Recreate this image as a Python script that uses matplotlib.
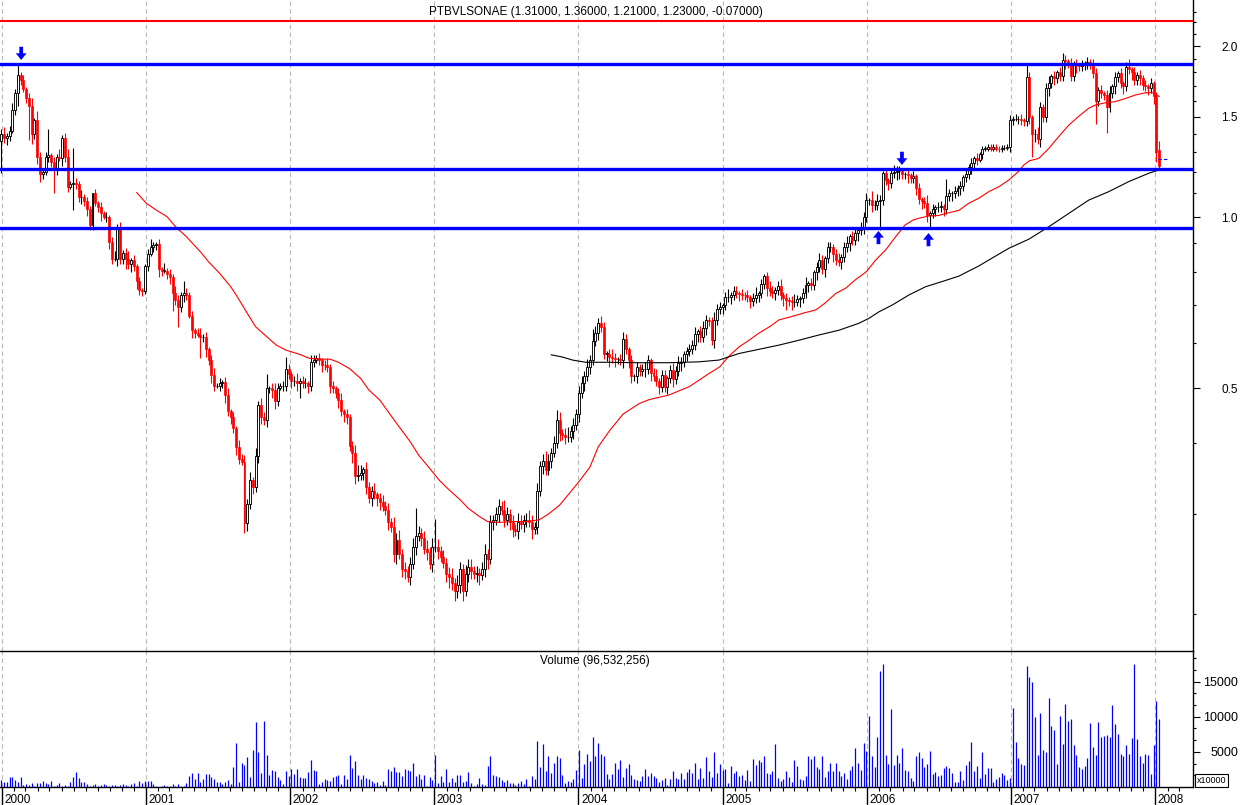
import numpy as np
import matplotlib
matplotlib.use("Agg")
import matplotlib.pyplot as plt
import matplotlib.dates as mdates
import matplotlib.transforms as mtrans
from matplotlib.ticker import FixedLocator, NullFormatter
import datetime as dt

plt.rcParams['font.family'] = ['Liberation Sans', 'DejaVu Sans']

# ---------------- data ----------------
symbol = "PTBVLSONAE"
first_week = dt.date(1999, 12, 31)          # weekly bars, Fridays
first_open = 1.36
last_bar = [1.31, 1.36, 1.21, 1.23]          # open, high, low, close of final week
last_change = -0.07

weekly_close = [
    1.40, 1.38, 1.39, 1.42, 1.54, 1.65, 1.78, 1.74, 1.68, 1.62,
    1.57, 1.40, 1.48, 1.277, 1.19, 1.20, 1.277, 1.285, 1.25, 1.21,
    1.277, 1.27, 1.38, 1.277, 1.13, 1.145, 1.15, 1.145, 1.085, 1.085,
    1.065, 1.035, 0.97, 1.10, 1.057, 1.043, 1.015, 1.00, 1.00, 0.905,
    0.845, 0.845, 0.962, 0.845, 0.865, 0.845, 0.825, 0.84, 0.82, 0.77,
    0.744, 0.74,
    0.82, 0.862, 0.887, 0.893, 0.895, 0.81, 0.805, 0.805, 0.795, 0.785,
    0.734, 0.715, 0.695, 0.73, 0.734, 0.73, 0.67, 0.632, 0.625, 0.62,
    0.615, 0.615, 0.585, 0.56, 0.527, 0.505, 0.505, 0.51, 0.512, 0.486,
    0.455, 0.445, 0.425, 0.393, 0.375, 0.37, 0.289, 0.313, 0.345, 0.335,
    0.38, 0.466, 0.445, 0.44, 0.50, 0.50, 0.495, 0.474, 0.50, 0.505,
    0.505, 0.54, 0.53, 0.515, 0.515, 0.51,
    0.515, 0.51, 0.51, 0.505, 0.555, 0.56, 0.565, 0.56, 0.55, 0.548,
    0.545, 0.505, 0.50, 0.49, 0.476, 0.455, 0.45, 0.445, 0.395, 0.385,
    0.35, 0.352, 0.355, 0.36, 0.335, 0.32, 0.33, 0.325, 0.32, 0.315,
    0.31, 0.305, 0.29, 0.285, 0.255, 0.27, 0.255, 0.24, 0.238, 0.232,
    0.245, 0.262, 0.274, 0.278, 0.272, 0.26, 0.257, 0.245, 0.262, 0.263,
    0.258, 0.252, 0.246, 0.235, 0.232, 0.227, 0.22, 0.225, 0.24, 0.22,
    0.235, 0.2425, 0.238, 0.235, 0.236, 0.234, 0.24, 0.255, 0.25, 0.29,
    0.293, 0.30, 0.31, 0.305, 0.293, 0.30, 0.29, 0.282, 0.28, 0.29,
    0.288, 0.293, 0.293, 0.29, 0.282, 0.285, 0.33, 0.364, 0.372, 0.358,
    0.372, 0.385, 0.40, 0.44, 0.416, 0.413, 0.41, 0.41, 0.42, 0.43,
    0.45, 0.49, 0.51, 0.525, 0.545, 0.56, 0.605, 0.625,
    0.65, 0.64, 0.575, 0.575, 0.568, 0.565, 0.562, 0.562, 0.56, 0.61,
    0.585, 0.56, 0.525, 0.525, 0.545, 0.535, 0.54, 0.54, 0.56, 0.531,
    0.525, 0.515, 0.503, 0.527, 0.503, 0.52, 0.538, 0.518, 0.535, 0.553,
    0.556, 0.575, 0.58, 0.585, 0.595, 0.622, 0.63, 0.615, 0.638, 0.66,
    0.655, 0.607, 0.66, 0.69, 0.695, 0.70, 0.724, 0.724, 0.73, 0.74,
    0.735, 0.733, 0.73, 0.728, 0.722, 0.712, 0.72, 0.73, 0.735, 0.762,
    0.786, 0.75, 0.742, 0.735, 0.745, 0.755, 0.73, 0.72, 0.715, 0.712,
    0.708, 0.71, 0.716, 0.72, 0.735, 0.76, 0.765, 0.76, 0.80, 0.818,
    0.84, 0.81, 0.846, 0.886, 0.887, 0.86, 0.84, 0.835, 0.852, 0.886,
    0.90, 0.925, 0.911, 0.936, 0.95, 0.962, 1.00, 1.07, 1.07, 1.05,
    1.05, 1.065, 1.07, 1.194, 1.16, 1.15, 1.194, 1.20, 1.205, 1.205,
    1.19, 1.19, 1.185, 1.17, 1.18, 1.125, 1.075, 1.065, 1.06, 1.01,
    1.015, 1.035, 1.04, 1.04, 1.045, 1.035, 1.09, 1.10, 1.10, 1.11,
    1.125, 1.135, 1.175, 1.19, 1.225, 1.245, 1.27, 1.26, 1.29, 1.32,
    1.32, 1.33, 1.32, 1.33, 1.32, 1.315, 1.325, 1.325, 1.33, 1.48,
    1.49, 1.49, 1.49, 1.48, 1.475, 1.765, 1.50, 1.40, 1.40, 1.37,
    1.564, 1.50, 1.685, 1.72, 1.77, 1.76, 1.80, 1.77, 1.89, 1.88,
    1.87, 1.77, 1.86, 1.85, 1.845, 1.85, 1.86, 1.875, 1.86, 1.79,
    1.60, 1.674, 1.65, 1.64, 1.564, 1.65, 1.70, 1.765, 1.79, 1.72,
    1.70, 1.84, 1.82, 1.80, 1.74, 1.78, 1.76, 1.71, 1.70, 1.69,
    1.72, 1.63, 1.30, 1.23,
]

wick_up_pct = [
    2, 3, 1, 2, 3, 2, 4, 1, 2, 1, 2, 3, 1, 4, 2, 1, 2, 11, 1, 2,
    1, 3, 1, 2, 3, 1, 15, 2, 1, 3, 1, 2, 1, 0, 2, 1, 2, 1, 2, 1,
    2, 3, 1, 2, 1, 2, 3, 1, 2, 1, 2, 1, 1, 2, 3, 1, 1, 2, 1, 3,
    1, 2, 1, 3, 2, 1, 5, 2, 1, 2, 1, 2, 3, 1, 2, 1, 2, 3, 1, 2,
    1, 2, 3, 1, 2, 1, 3, 2, 3, 2, 3, 1, 3, 2, 3, 2, 6, 1, 2, 3,
    2, 1, 2, 5, 2, 1, 2, 3, 1, 2, 2, 1, 3, 2, 1, 2, 1, 2, 3, 1,
    2, 1, 2, 3, 1, 2, 1, 2, 3, 4, 3, 1, 3, 2, 2, 3, 1, 2, 3, 2,
    3, 2, 4, 3, 4, 2, 3, 2, 3, 4, 12, 3, 2, 3, 4, 2, 4, 12, 3, 2,
    3, 2, 3, 4, 2, 4, 3, 2, 4, 3, 3, 2, 3, 2, 3, 4, 2, 3, 2, 3,
    3, 2, 4, 3, 2, 3, 2, 4, 3, 2, 3, 4, 3, 2, 3, 2, 3, 4, 3, 2,
    3, 4, 3, 2, 3, 4, 2, 3, 2, 3, 3, 2, 3, 2, 5, 3, 2, 3, 2, 1,
    2, 3, 2, 1, 2, 3, 2, 1, 2, 1, 2, 1, 2, 3, 2, 1, 2, 3, 1, 2,
    2, 1, 2, 3, 2, 3, 2, 1, 2, 2, 2, 3, 1, 2, 3, 2, 1, 2, 3, 2,
    2, 1, 2, 3, 1, 2, 2, 1, 2, 1, 2, 1, 2, 3, 1, 2, 1, 2, 3, 2,
    1, 2, 3, 1, 2, 1, 2, 3, 2, 1, 2, 3, 1, 2, 1, 2, 3, 2, 1, 2,
    2, 1, 2, 3, 1, 2, 3, 1, 2, 2, 1, 2, 2, 3, 1, 4, 2, 3, 2, 1,
    2, 1, 2, 3, 2, 2, 1, 1, 2, 1, 2, 1, 2, 1, 2, 3, 1, 2, 1, 2,
    2, 1, 7, 2, 1, 2, 1, 2, 1, 2, 1, 2, 1, 2, 1, 1, 1, 1, 1, 1,
    1, 1, 1, 1, 1, 2, 1, 2, 1, 2, 1, 5, 2, 1, 2, 3, 2, 1, 2, 3,
    1, 2, 1, 2, 3, 2, 1, 2, 1, 2, 1, 2, 1, 2, 1, 2, 2, 1, 2, 1,
    2, 3, 1, 2, 1, 2, 1, 2, 3, 1, 2, 1, 2, 1, 2, 1, 2, 1, 2, 4,
]

wick_dn_pct = [
    12, 2, 3, 2, 1, 2, 5, 2, 1, 2, 13, 4, 2, 3, 3, 2, 1, 2, 2, 9,
    2, 1, 3, 2, 2, 1, 10, 2, 2, 3, 2, 3, 2, 2, 1, 2, 3, 1, 2, 3,
    2, 1, 3, 2, 2, 4, 2, 3, 2, 3, 2, 2, 1, 2, 1, 2, 2, 3, 2, 1,
    2, 3, 7, 2, 8, 2, 3, 2, 1, 3, 2, 1, 8, 2, 3, 2, 3, 2, 1, 2,
    2, 3, 2, 3, 2, 3, 2, 1, 4, 3, 2, 3, 2, 3, 3, 2, 3, 2, 3, 3,
    2, 1, 2, 2, 2, 3, 2, 3, 6, 2, 2, 3, 2, 2, 1, 2, 3, 2, 2, 3,
    2, 2, 3, 2, 3, 3, 2, 4, 3, 2, 2, 3, 3, 2, 3, 2, 3, 3, 2, 2,
    3, 2, 3, 4, 2, 3, 3, 2, 3, 2, 3, 2, 3, 2, 3, 2, 3, 2, 3, 2,
    2, 3, 4, 3, 4, 3, 3, 4, 2, 3, 3, 2, 3, 4, 2, 3, 4, 2, 3, 2,
    3, 2, 3, 2, 3, 3, 2, 3, 2, 3, 3, 2, 4, 2, 3, 2, 3, 2, 2, 3,
    2, 2, 3, 2, 3, 2, 2, 3, 2, 3, 2, 3, 2, 3, 2, 2, 3, 2, 2, 3,
    4, 2, 3, 2, 2, 3, 2, 3, 3, 2, 3, 2, 2, 3, 2, 3, 2, 2, 3, 2,
    2, 3, 2, 3, 2, 2, 3, 2, 3, 2, 2, 2, 3, 2, 2, 3, 2, 2, 3, 2,
    2, 3, 2, 2, 3, 2, 2, 3, 2, 2, 2, 3, 2, 2, 3, 2, 2, 3, 2, 2,
    3, 2, 2, 3, 4, 2, 3, 2, 2, 3, 2, 2, 3, 2, 2, 3, 2, 2, 3, 2,
    2, 3, 2, 2, 3, 2, 2, 3, 2, 2, 3, 2, 3, 2, 2, 3, 2, 2, 11, 2,
    2, 3, 2, 2, 3, 3, 2, 2, 3, 2, 2, 3, 2, 3, 2, 3, 5, 2, 3, 2,
    2, 3, 2, 2, 3, 2, 2, 3, 2, 2, 2, 3, 2, 2, 1, 2, 1, 1, 1, 1,
    1, 1, 1, 1, 1, 2, 2, 1, 2, 2, 2, 2, 3, 9, 3, 2, 3, 2, 2, 3,
    2, 3, 2, 2, 2, 3, 2, 2, 2, 3, 2, 2, 2, 2, 2, 2, 9, 2, 2, 2,
    10, 2, 2, 3, 2, 2, 3, 2, 2, 3, 2, 2, 3, 2, 2, 3, 2, 3, 4, 2,
]

# weekly volume, in units of 10,000 shares
vol_a = [990, 750, 750, 1460, 1460, 990, 750, 1460, 280, 420,
         280, 520, 190, 520, 520, 890, 520, 420, 890, 190,
         280, 520, 190, 280, 190, 700, 1460, 2160, 1320, 700,
         700, 420, 190, 280, 420, 190, 280, 420, 280, 190,
         280, 280, 190, 280, 420, 280, 190, 420, 520, 190,
         890, 520]
vol_b = [890, 890, 890, 420, 190, 50, 190, 280, 190, 190,
         420, 90, 420, 190, 190, 520, 1550, 2020, 1170, 1970,
         700, 1170, 1830, 1830, 1360, 1170, 700, 700, 420, 700,
         990, 420, 2820, 6200, 700, 3380, 3100, 4230, 1410, 5210,
         9200, 4930, 1970, 9440, 4510, 1690, 2390, 2250, 1410, 990,
         420]
vol_c = [2250, 1550, 2540, 1830, 2540, 1410, 1320, 1320, 2110, 3800,
         2390, 2250, 420, 700, 1130, 990, 890, 1410, 1550, 1690,
         420, 1690, 1130, 4510, 2680, 3660, 1690, 1130, 1690, 1270,
         1130, 890, 560, 700, 280, 890, 280, 2540, 2250, 2820,
         2110, 2110, 1550, 2540, 2390, 2250, 3380, 1500]
vol_d = [1830, 1130, 1690, 190, 1410, 990, 4510, 560, 1550, 700,
         2540, 700, 1270, 700, 1690, 1690, 700, 850, 2110, 560,
         140, 420, 1270, 420, 280, 2960, 4370, 1690, 1550, 1410,
         990, 700, 990, 560, 560, 280, 560, 850, 420, 1130,
         140, 1550, 1130, 6620, 2820, 6060, 2250, 4370, 1970, 3380,
         4370, 4080, 1690, 560, 850, 700, 1130]
vol_e = [2390, 5210, 1270, 3240, 4650, 3660, 7180, 4370, 6200, 4650,
         4370, 1830, 1130, 1830, 3380, 2540, 3800, 1410, 2680, 3240,
         1690, 1130, 990, 890, 1550, 2540, 1550, 1970, 1550, 1270,
         700, 990, 1270, 280, 1130, 2250, 1270, 1130, 1970, 1130,
         2110, 2540, 1970, 3380, 1130, 2680, 1270, 4230, 2250, 1410,
         4930]
vol_f = [1970, 3240, 2390, 2540, 560, 2960, 1970, 2250, 1550, 1690,
         990, 2390, 850, 3940, 3100, 3800, 3520, 4370, 1970, 1830,
         2250, 6060, 1270, 850, 1130, 2250, 1410, 700, 3800, 2960,
         1130, 990, 1550, 4370, 3940, 4370, 2820, 2540, 4370, 1410,
         2250, 3380, 2250]
vol_g = [3380, 2250, 1550, 1970, 1130, 2390, 2960, 5490, 3380, 2390,
         6200, 5070, 10140, 4370, 2820, 7180, 16480, 17470, 4510, 3240,
         11130, 3100, 4510, 3380, 5490, 2390, 2250, 1270, 850, 4370,
         4930, 4080, 2820, 3240, 5070, 1830, 2110, 1550, 1690, 2680,
         2960, 2680, 1970, 700, 700, 2250, 990, 3100, 3660, 6340,
         2250, 2960, 1270, 4930, 1830, 2680, 2680, 700, 1130, 1410,
         1970, 1690, 990, 1270, 11270, 6340, 4080, 3240, 3100, 17180]
vol_h = [15680, 14980, 9910, 4510, 10610, 5260, 4980, 12720, 8730, 8170,
         3290, 10140, 6100, 11880, 9340, 9620, 5960, 4550, 2860, 2500,
         3000, 4130, 9060, 5680, 4510, 9200, 7090, 7230, 7460, 7090,
         11740, 8920, 7510, 4690, 4410, 5960, 4690, 6950, 17510, 6810,
         4410, 3430, 4690, 4550, 1880, 5960, 12300, 9653.2256]

# moving averages (week index, value)
ma50_weeks = [49, 52.5, 56, 60, 63, 67, 72, 75, 79, 83,
              85, 89, 92, 96, 99.5, 103, 108, 111.5, 115, 119,
              122, 126, 130, 133, 137, 140, 144, 148, 151, 155,
              158.5, 162, 166, 169, 173, 176, 180, 185, 190, 194.6,
              198, 202, 205.5, 209, 213, 216, 220, 225, 231, 234.4,
              241.6, 249, 256, 260, 263, 267, 270.6, 274, 278, 281.4,
              286, 291, 294.7, 298, 302, 305.5, 309, 313, 316.4, 320,
              323.6, 327, 330, 332, 335.6, 339, 343, 346.5, 350, 353.7,
              357.3, 361, 364.6, 368, 370, 372, 375.4, 379, 382.6, 386.3,
              390, 393.5, 396, 399.5, 403, 407, 410.4, 414, 416.4, 418.2,
              419]
ma50_values = [1.104, 1.057, 1.029, 1.001, 0.962, 0.923, 0.869, 0.834, 0.796, 0.754,
               0.729, 0.677, 0.641, 0.616, 0.595, 0.583, 0.573, 0.564, 0.562, 0.562,
               0.555, 0.541, 0.520, 0.496, 0.476, 0.454, 0.427, 0.402, 0.381, 0.361,
               0.344, 0.331, 0.318, 0.307, 0.297, 0.291, 0.290, 0.291, 0.291, 0.293,
               0.300, 0.311, 0.326, 0.342, 0.363, 0.394, 0.420, 0.450, 0.470, 0.477,
               0.486, 0.503, 0.530, 0.545, 0.567, 0.591, 0.607, 0.624, 0.641, 0.659,
               0.668, 0.679, 0.686, 0.705, 0.734, 0.749, 0.775, 0.801, 0.840, 0.875,
               0.923, 0.968, 0.988, 0.995, 1.004, 1.006, 1.018, 1.027, 1.057, 1.079,
               1.108, 1.131, 1.162, 1.202, 1.235, 1.256, 1.268, 1.320, 1.385, 1.452,
               1.506, 1.554, 1.575, 1.589, 1.596, 1.618, 1.640, 1.655, 1.655, 1.640,
               1.630]
ma200_weeks = [199, 203, 206.7, 211.5, 220, 230.8, 241.6, 252.5, 259.7, 266.9,
               274.2, 281.4, 288.7, 295.9, 303.1, 310.3, 313.9, 317.6, 322.4, 328.4,
               334.5, 340.5, 346.5, 353.7, 360.9, 364.6, 371.8, 379, 386.3, 393.5,
               400.7, 407.9, 415.2, 418.2, 419]
ma200_values = [0.572, 0.567, 0.560, 0.555, 0.555, 0.554, 0.554, 0.556, 0.560, 0.575,
                0.585, 0.595, 0.607, 0.620, 0.632, 0.650, 0.663, 0.681, 0.700, 0.729,
                0.754, 0.770, 0.787, 0.820, 0.860, 0.881, 0.914, 0.961, 1.015, 1.071,
                1.108, 1.154, 1.194, 1.207, 1.210]

blue_levels = [1.859, 1.215, 0.956]
red_level = 2.216
arrow_weeks = [7.2, 317.4, 325.9, 335.5]
arrow_prices = [1.89, 0.945, 1.235, 0.937]
arrow_dirs = ['down', 'up', 'down', 'up']
last_marker_price = 1.265

price_major = [0.5, 1.0, 1.5, 2.0]
price_minor = [0.2, 0.3, 0.4, 0.6, 0.7, 0.8, 0.9, 1.1, 1.2, 1.3, 1.4,
               1.6, 1.7, 1.8, 1.9, 2.1, 2.2, 2.3]
vol_major = [5000, 10000, 15000]
years = list(range(2000, 2009))

# ---------------- derived ----------------
volume = np.array(vol_a + vol_b + vol_c + vol_d + vol_e + vol_f + vol_g + vol_h, dtype=float)
close = np.array(weekly_close, dtype=float)
n = len(close)
assert len(volume) == n and len(wick_up_pct) == n and len(wick_dn_pct) == n, (len(volume), n, len(wick_up_pct), len(wick_dn_pct))
assert len(ma50_weeks) == len(ma50_values) and len(ma200_weeks) == len(ma200_values)

opn = np.r_[first_open, close[:-1]]
opn[-1] = last_bar[0]
close[-1] = last_bar[3]
top = np.maximum(opn, close)
bot = np.minimum(opn, close)
high = top * (1 + np.array(wick_up_pct) / 100.0)
low = bot * (1 - np.array(wick_dn_pct) / 100.0)
high[-1] = last_bar[1]
low[-1] = last_bar[2]

base = mdates.date2num(first_week)
xw = base + 7.0 * np.arange(n)
def wk(w):
    return base + 7.0 * np.asarray(w, dtype=float)

jan1_2000 = mdates.date2num(dt.date(2000, 1, 1))
x_left = jan1_2000 - 4.3
x_right = jan1_2000 + 3017.5

# ---------------- figure ----------------
W, H = 1242, 805
fig = plt.figure(figsize=(W / 100, H / 100), dpi=100)
fig.patch.set_facecolor('white')
ax_p = fig.add_axes([0, (H - 651) / H, 1193 / W, 651 / H])
ax_v = fig.add_axes([0, (H - 787) / H, 1193 / W, (787 - 651) / H])

year_nums = [mdates.date2num(dt.date(y, 1, 1)) for y in years]
month_nums = [mdates.date2num(dt.date(y, m, 1)) for y in range(2000, 2009)
              for m in range(2, 13) if dt.date(y, m, 1) < dt.date(2008, 4, 1)]

for ax in (ax_p, ax_v):
    ax.set_xlim(x_left, x_right)
    for yx in year_nums:
        ax.axvline(yx, color='#b8b8b8', lw=0.8, ls=(0, (4, 3)), zorder=0.5)
    ax.spines['left'].set_visible(False)
    ax.spines['right'].set_color('black')
    ax.spines['right'].set_linewidth(1.0)
    ax.set_facecolor('white')

# ---- price panel ----
ax_p.set_yscale('log')
ax_p.set_ylim(0.1722, 2.41)
ax_p.spines['top'].set_visible(False)
ax_p.spines['bottom'].set_visible(False)
ax_p.xaxis.set_major_locator(FixedLocator([]))
ax_p.xaxis.set_minor_locator(FixedLocator([]))
ax_p.yaxis.tick_right()
ax_p.yaxis.set_major_locator(FixedLocator(price_major))
ax_p.yaxis.set_minor_locator(FixedLocator(price_minor))
ax_p.yaxis.set_major_formatter(NullFormatter())
ax_p.yaxis.set_minor_formatter(NullFormatter())
ax_p.tick_params(axis='y', which='major', length=5, width=0.8, direction='out')
ax_p.tick_params(axis='y', which='minor', length=2.5, width=0.8, direction='out')
blend_p = mtrans.blended_transform_factory(ax_p.transAxes, ax_p.transData)
for v in price_major:
    ax_p.text(1238 / 1193, v, f"{v:.1f}", transform=blend_p, ha='right',
              va='center_baseline', fontsize=8.5, clip_on=False)

up = close >= opn
cw = 5.0
ax_p.vlines(xw[up], low[up], high[up], colors='black', lw=0.8, zorder=2)
ax_p.vlines(xw[~up], low[~up], high[~up], colors='#ff0000', lw=0.8, zorder=2)
hgt = np.maximum(top - bot, 1e-4)
ax_p.bar(xw[up], hgt[up], bottom=bot[up], width=cw, facecolor='white',
         edgecolor='black', linewidth=0.65, zorder=3)
ax_p.bar(xw[~up], hgt[~up], bottom=bot[~up], width=cw, facecolor='#ff0000',
         edgecolor='#ff0000', linewidth=0.5, zorder=3)

ax_p.plot(wk(ma50_weeks), ma50_values, color='#ff0000', lw=0.8, zorder=4)
ax_p.plot(wk(ma200_weeks), ma200_values, color='black', lw=0.8, zorder=4)

for lv in blue_levels:
    ax_p.axhline(lv, color='#0000ff', lw=2.4, zorder=5)
ax_p.axhline(red_level, color='#ff0000', lw=1.5, zorder=5)

ax_p.hlines(last_marker_price, wk(418.6), wk(421.8), colors='#0000ff',
            lw=0.8, linestyles=(0, (3, 2)), zorder=5)

for w, pr, d in zip(arrow_weeks, arrow_prices, arrow_dirs):
    off = 9.5 if d == 'down' else -9.5
    ax_p.annotate('', xy=(wk(w), pr), xytext=(0, off), textcoords='offset points',
                  arrowprops=dict(arrowstyle='simple,head_length=0.8,head_width=1.3,tail_width=0.45',
                                  fc='#0000ff', ec='#0000ff', lw=0, shrinkA=0, shrinkB=0,
                                  mutation_scale=6), zorder=6)

title = f"{symbol} ({last_bar[0]:.5f}, {last_bar[1]:.5f}, {last_bar[2]:.5f}, {last_bar[3]:.5f}, {last_change:.5f})"
fig.text(596 / W, 1 - 12 / H, title, ha='center', va='center', fontsize=8.5)

# ---- volume panel ----
ax_v.set_ylim(0, 19370)
ax_v.spines['top'].set_color('black')
ax_v.spines['top'].set_linewidth(1.0)
ax_v.spines['bottom'].set_color('black')
ax_v.spines['bottom'].set_linewidth(1.0)
ax_v.vlines(xw, 0, volume, colors='#0000ff', lw=0.9, zorder=3)
ax_v.yaxis.tick_right()
ax_v.yaxis.set_major_locator(FixedLocator(vol_major))
ax_v.yaxis.set_minor_locator(FixedLocator([v * 5000 / 3 for v in range(1, 12)]))
ax_v.yaxis.set_major_formatter(NullFormatter())
ax_v.tick_params(axis='y', which='major', length=5, width=0.8, direction='out')
ax_v.tick_params(axis='y', which='minor', length=2.5, width=0.8, direction='out')
blend_v = mtrans.blended_transform_factory(ax_v.transAxes, ax_v.transData)
for v in vol_major:
    ax_v.text(1238 / 1193, v, f"{v}", transform=blend_v, ha='right',
              va='center_baseline', fontsize=9, clip_on=False)

ax_v.xaxis.set_major_locator(FixedLocator(year_nums))
ax_v.xaxis.set_minor_locator(FixedLocator(month_nums))
ax_v.xaxis.set_major_formatter(NullFormatter())
ax_v.tick_params(axis='x', which='major', length=14, width=1.0, direction='out')
ax_v.tick_params(axis='x', which='minor', length=3, width=0.8, direction='out')
for y, yx in zip(years, year_nums):
    ax_v.annotate(str(y), xy=(yx, 0), xycoords=('data', 'axes fraction'),
                  xytext=(1.8, -11.6), textcoords='offset points',
                  ha='left', va='baseline', fontsize=8.5, annotation_clip=False)

fig.text(595 / W, 1 - 661 / H, f"Volume ({int(round(volume[-1] * 10000)):,})",
         ha='center', va='center', fontsize=8.5)
fig.text(1197 / W, 1 - 780.5 / H, "x10000", ha='left', va='center', fontsize=6.5,
         bbox=dict(boxstyle='square,pad=0.2', fc='white', ec='black', lw=0.8))

fig.savefig('out.png', dpi=100, facecolor='white')
